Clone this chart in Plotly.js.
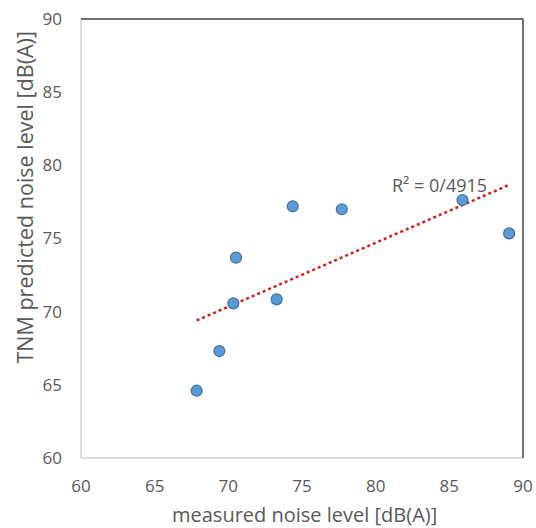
<!DOCTYPE html>
<html>
<head>
<meta charset="utf-8">
<script src="https://cdn.plot.ly/plotly-3.0.1.min.js"></script>
<style>html,body{margin:0;padding:0;background:#fff;}#chart{width:536px;height:528px;}</style>
</head>
<body>
<div id="chart"></div>
<script>
const measured = [67.85, 69.39, 70.34, 70.52, 73.28, 74.37, 77.7, 85.89, 89.06];
const predicted = [64.6, 67.31, 70.57, 73.69, 70.84, 77.2, 77.0, 77.63, 75.35];
const axisTicks = [60, 65, 70, 75, 80, 85, 90];
const r2Label = 'R² = 0/4915';
const xTitle = 'measured noise level [dB(A)]';
const yTitle = 'TNM predicted noise level [dB(A)]';

// least-squares trendline
const n = measured.length;
const mx = measured.reduce((a,b)=>a+b,0)/n;
const my = predicted.reduce((a,b)=>a+b,0)/n;
let sxy=0, sxx=0;
for (let i=0;i<n;i++){ sxy+=(measured[i]-mx)*(predicted[i]-my); sxx+=(measured[i]-mx)**2; }
const slope = sxy/sxx, icpt = my - slope*mx;
const xmin = Math.min(...measured), xmax = Math.max(...measured);
const trendX = [xmin, xmax];
const trendY = trendX.map(x => icpt + slope*x);

const font = 'Open Sans, sans-serif';
const gray = '#595959';
const W = 536, H = 528, M = {l: 81, r: 13, t: 19, b: 70};
const pw = W - M.l - M.r, ph = H - M.t - M.b;
const px2paperX = px => (px - M.l) / pw;
const px2paperY = py => 1 - (py - M.t) / ph;

const traces = [
  {x: trendX, y: trendY, mode: 'lines', line: {color: '#D0201A', width: 2.5, dash: 'dot'}, hoverinfo: 'skip'},
  {x: measured, y: predicted, mode: 'markers',
   marker: {size: 11, color: '#5B9BD5', line: {color: '#41719C', width: 1.2}}}
];

const layout = {
  width: W, height: H,
  margin: M,
  showlegend: false,
  paper_bgcolor: '#fff', plot_bgcolor: '#fff',
  font: {family: font, color: gray, size: 17},
  xaxis: {range: [60, 90], tickvals: axisTicks, showgrid: false, zeroline: false, showline: false,
          ticks: '', ticklabelstandoff: 16, tickfont: {size: 17, color: gray}},
  yaxis: {range: [60, 90], tickvals: axisTicks, showgrid: false, zeroline: false, showline: false,
          ticks: '', ticklabelstandoff: 18, tickfont: {size: 17, color: gray}},
  shapes: [
    {type:'line', xref:'paper', yref:'paper', x0:0, x1:0, y0:0, y1:1, line:{color:'#D0D0D0', width:1.5}},
    {type:'line', xref:'paper', yref:'paper', x0:0, x1:1, y0:0, y1:0, line:{color:'#D0D0D0', width:1.5}},
    {type:'line', xref:'paper', yref:'paper', x0:0, x1:1, y0:1, y1:1, line:{color:'#404040', width:1.5}},
    {type:'line', xref:'paper', yref:'paper', x0:1, x1:1, y0:0, y1:1, line:{color:'#404040', width:1.5}}
  ],
  annotations: [
    {x: 81.0, y: 78.65, xref:'x', yref:'y', text: r2Label, showarrow: false, xanchor: 'left', yanchor: 'middle',
     font: {size: 18, color: gray, family: font}},
    {x: px2paperX(24.5), y: px2paperY(198), xref:'paper', yref:'paper', text: yTitle, showarrow: false, textangle: -90,
     xanchor: 'center', yanchor: 'middle', font: {size: 21.5, color: gray, family: font}},
    {x: px2paperX(304), y: px2paperY(514), xref:'paper', yref:'paper', text: xTitle, showarrow: false,
     xanchor: 'center', yanchor: 'middle', font: {size: 20, color: gray, family: font}}
  ]
};

Plotly.newPlot('chart', traces, layout, {displayModeBar: false, staticPlot: true});
</script>
</body>
</html>
